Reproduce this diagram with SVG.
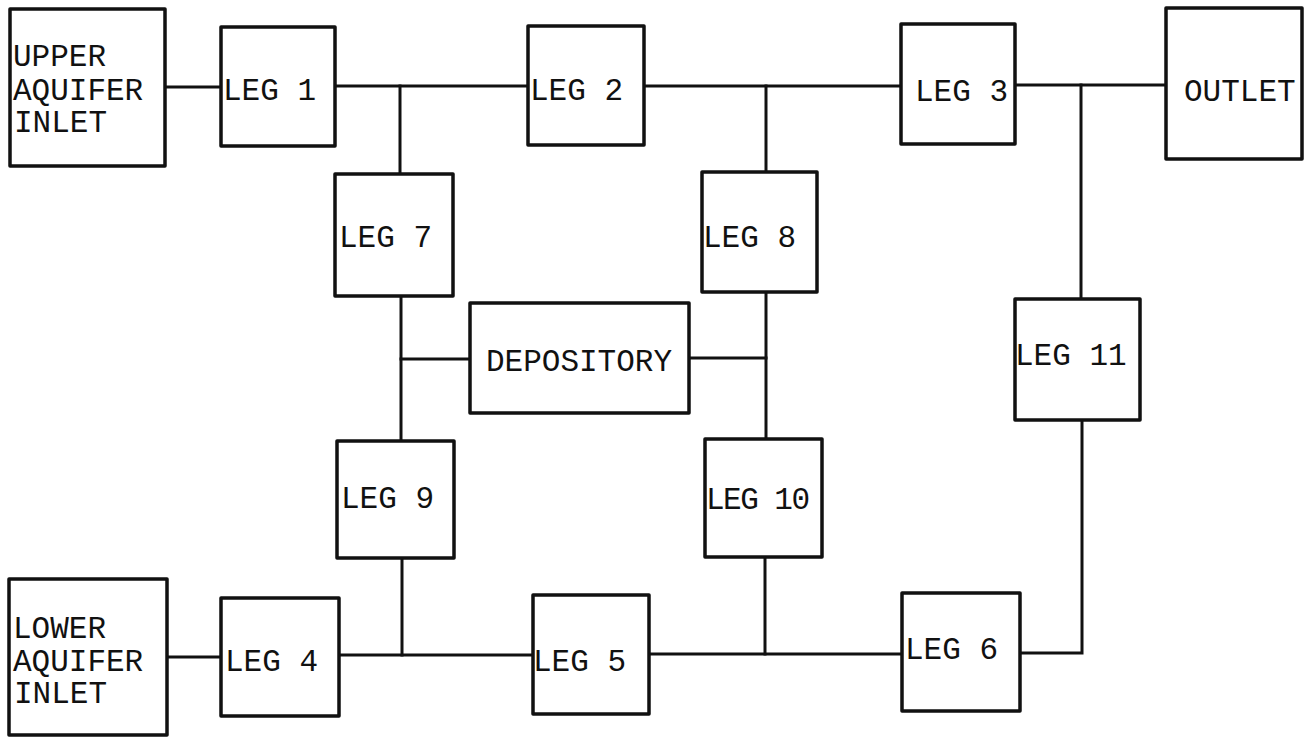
<svg xmlns="http://www.w3.org/2000/svg" width="1311" height="740" viewBox="0 0 1311 740">
<style>
.box{fill:#fff;stroke:#111;stroke-width:3.5;stroke-linejoin:round}
.ln{fill:none;stroke:#111;stroke-width:3;stroke-linecap:square}
text{font-family:"Liberation Mono","DejaVu Sans Mono",monospace;font-size:31px;fill:#111}
</style>
<rect width="1311" height="740" fill="#fff"/>
<g id="connectors">
<path class="ln" d="M165 87 H221"/>
<path class="ln" d="M335 86 H528"/>
<path class="ln" d="M644 86 H901"/>
<path class="ln" d="M1015 85 H1166"/>
<path class="ln" d="M400 86 V174"/>
<path class="ln" d="M766 86 V172"/>
<path class="ln" d="M1081 85 V299"/>
<path class="ln" d="M401 296 V441"/>
<path class="ln" d="M401 359 H470"/>
<path class="ln" d="M689 358 H766"/>
<path class="ln" d="M766 292 V439"/>
<path class="ln" d="M167 657 H221"/>
<path class="ln" d="M339 655 H533"/>
<path class="ln" d="M402 558 V655"/>
<path class="ln" d="M649 654 H902"/>
<path class="ln" d="M765 557 V654"/>
<path class="ln" d="M1020 653 H1082 V420"/>
</g>
<g id="upper-inlet"><rect class="box" x="10" y="9" width="155" height="157"/><text x="13" y="66">UPPER</text><text x="13" y="100">AQUIFER</text><text x="14" y="132">INLET</text></g>
<g id="leg1"><rect class="box" x="221" y="27" width="114" height="119"/><text x="223" y="100">LEG 1</text></g>
<g id="leg2"><rect class="box" x="528" y="26" width="116" height="119"/><text x="530" y="100">LEG 2</text></g>
<g id="leg3"><rect class="box" x="901" y="24" width="114" height="120"/><text x="915" y="101">LEG 3</text></g>
<g id="outlet"><rect class="box" x="1166" y="8" width="136" height="151"/><text x="1184" y="101">OUTLET</text></g>
<g id="leg7"><rect class="box" x="335" y="174" width="118" height="122"/><text x="339" y="247">LEG 7</text></g>
<g id="leg8"><rect class="box" x="702" y="172" width="115" height="120"/><text x="703" y="247">LEG 8</text></g>
<g id="depository"><rect class="box" x="470" y="303" width="219" height="110"/><text x="486" y="371">DEPOSITORY</text></g>
<g id="leg11"><rect class="box" x="1015" y="299" width="125" height="121"/><text x="1015" y="365">LEG 11</text></g>
<g id="leg9"><rect class="box" x="337" y="441" width="117" height="117"/><text x="341" y="508">LEG 9</text></g>
<g id="leg10"><rect class="box" x="705" y="439" width="117" height="118"/><text x="706" y="509" textLength="104" lengthAdjust="spacing">LEG 10</text></g>
<g id="lower-inlet"><rect class="box" x="9" y="579" width="158" height="156"/><text x="13" y="638">LOWER</text><text x="13" y="671">AQUIFER</text><text x="14" y="703">INLET</text></g>
<g id="leg4"><rect class="box" x="221" y="598" width="118" height="118"/><text x="225" y="671">LEG 4</text></g>
<g id="leg5"><rect class="box" x="533" y="595" width="116" height="119"/><text x="533" y="671">LEG 5</text></g>
<g id="leg6"><rect class="box" x="902" y="593" width="118" height="118"/><text x="905" y="659">LEG 6</text></g>
</svg>
